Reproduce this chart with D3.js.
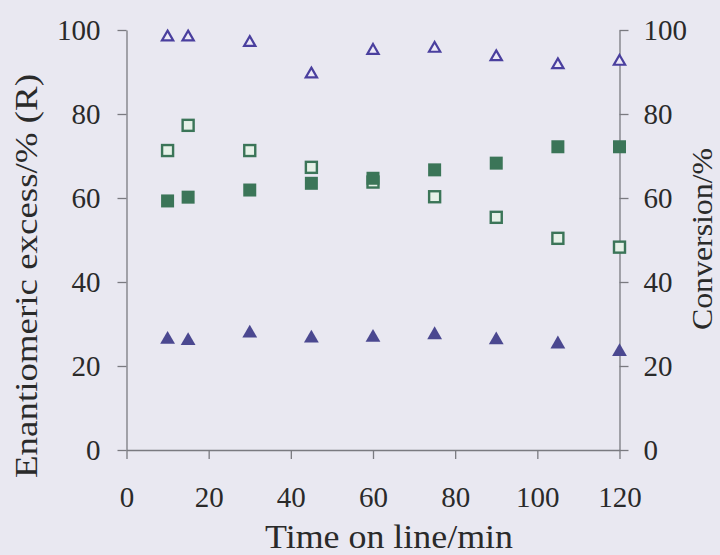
<!DOCTYPE html>
<html><head><meta charset="utf-8">
<script src="https://cdn.jsdelivr.net/npm/d3@7"></script>
<style>
html,body{margin:0;padding:0;background:#e9e8f1;}
svg{display:block;}
text{font-family:"Liberation Serif","Times New Roman",Times,serif;fill:#2a2a2a;}
</style></head>
<body>
<svg id="c" width="720" height="555"></svg>
<script>
const times = [10, 15, 30, 45, 60, 75, 90, 105, 120];
const convOpenTri = [98.3, 98.3, 97.0, 89.5, 95.1, 95.6, 93.6, 91.7, 92.5];
const eeFilledTri = [26.3, 26.0, 27.8, 26.6, 26.8, 27.4, 26.2, 25.2, 23.4];
const convOpenSq = [71.3, 77.3, 71.3, 67.3, 63.8, 60.3, 55.4, 50.4, 48.3];
const eeFilledSq = [59.3, 60.2, 61.9, 63.5, 64.7, 66.7, 68.3, 72.2, 72.2];
const xTicks = [0, 20, 40, 60, 80, 100, 120];
const yTicks = [0, 20, 40, 60, 80, 100];

const FONT = '"Liberation Serif", "Times New Roman", Times, serif';
const svg = d3.select("#c");
const x = d3.scaleLinear([0, 120], [126.5, 619.5]);
const y = d3.scaleLinear([0, 100], [450, 30]);
const yR = d3.scaleLinear([0, 100], [450, 30]);

const axisColor = "#7a7a80";
function styleAxis(g){
  g.selectAll("path,line").attr("stroke", axisColor).attr("stroke-width", 1.3);
  g.selectAll("text").attr("font-size", 29).attr("fill", "#2a2a2a")
    .attr("font-family", FONT);
}

svg.append("g").attr("transform", "translate(0,450)")
  .call(d3.axisBottom(x).tickValues(xTicks).tickSize(9).tickSizeOuter(0).tickPadding(27))
  .call(styleAxis);
svg.append("g").attr("transform", "translate(126.5,0)")
  .call(d3.axisLeft(y).tickValues(yTicks).tickSize(9).tickSizeOuter(0).tickPadding(17))
  .call(styleAxis);
svg.append("g").attr("transform", "translate(619.5,0)")
  .call(d3.axisRight(yR).tickValues(yTicks).tickSize(9).tickSizeOuter(0).tickPadding(15))
  .call(styleAxis);

const purple = "#4a3f9e", purpleFill = "#4b4890", green = "#3b7558";
const triOpen = d3.symbol().type(d3.symbolTriangle).size(55);
const triFill = d3.symbol().type(d3.symbolTriangle).size(95);

svg.append("g").selectAll("path").data(times).join("path")
  .attr("d", triOpen)
  .attr("transform", (d, i) => `translate(${x(d)},${yR(convOpenTri[i])})`)
  .attr("fill", "#ece9f6").attr("stroke", purple).attr("stroke-width", 2.2);

svg.append("g").selectAll("path").data(times).join("path")
  .attr("d", triFill)
  .attr("transform", (d, i) => `translate(${x(d)},${y(eeFilledTri[i])})`)
  .attr("fill", purpleFill);

svg.append("g").selectAll("rect").data(times).join("rect")
  .attr("x", d => x(d) - 5.5).attr("y", (d, i) => yR(convOpenSq[i]) - 5.5)
  .attr("width", 11).attr("height", 11)
  .attr("fill", "#e6f1e8").attr("stroke", green).attr("stroke-width", 2.4);

svg.append("g").selectAll("rect").data(times).join("rect")
  .attr("x", d => x(d) - 6.5).attr("y", (d, i) => y(eeFilledSq[i]) - 6.5)
  .attr("width", 13).attr("height", 13)
  .attr("fill", green);

svg.append("text").attr("x", 389).attr("y", 548).attr("text-anchor", "middle")
  .attr("font-family", FONT)
  .attr("font-size", 33).attr("textLength", 248).attr("lengthAdjust", "spacingAndGlyphs")
  .text("Time on line/min");
svg.append("text").attr("transform", "translate(37,276) rotate(-90)").attr("text-anchor", "middle")
  .attr("font-family", FONT)
  .attr("font-size", 32).attr("textLength", 404).attr("lengthAdjust", "spacingAndGlyphs")
  .text("Enantiomeric excess/% (R)");
svg.append("text").attr("transform", "translate(712,239) rotate(-90)").attr("text-anchor", "middle")
  .attr("font-family", FONT)
  .attr("font-size", 30).attr("textLength", 182).attr("lengthAdjust", "spacingAndGlyphs")
  .text("Conversion/%");
</script>
</body></html>
